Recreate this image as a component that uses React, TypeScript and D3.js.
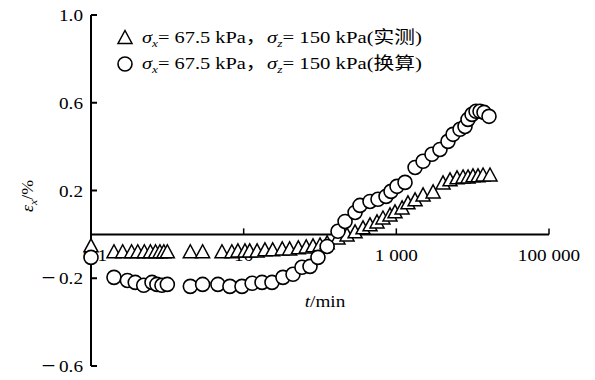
import React from "react";
import * as d3 from "d3";

// Time (min) and horizontal strain εx (%) — measured series (triangles)
const measuredT = [
  0.1, 0.2, 0.26, 0.34, 0.41, 0.5, 0.6, 0.7, 0.8, 0.9, 1.0,
  2, 2.9, 5.2, 7, 8.4, 10.4, 12, 15, 19, 24, 32, 40, 52, 66, 81,
  100, 124, 172, 226, 288, 366, 452, 558, 668, 826, 961, 1190,
  1420, 1760, 2240, 3030, 4090, 5050, 6240, 7480, 8690, 10100,
  11750, 13680, 16870,
];
const measuredE = [
  -0.05, -0.077, -0.077, -0.077, -0.077, -0.077, -0.077, -0.077, -0.077, -0.077, -0.077,
  -0.077, -0.077, -0.077, -0.077, -0.073, -0.073, -0.073, -0.073, -0.068, -0.068, -0.064, -0.064, -0.059, -0.055, -0.05,
  -0.046, -0.036, -0.014, 0.0, 0.014, 0.032, 0.046, 0.059, 0.077, 0.091, 0.105, 0.123,
  0.146, 0.16, 0.182, 0.196, 0.237, 0.251, 0.26, 0.264, 0.264, 0.269,
  0.269, 0.273, 0.273,
];

// Converted series (circles)
const convertedT = [
  0.1, 0.2, 0.3, 0.38, 0.49, 0.63, 0.73, 0.85, 1.0,
  2, 2.9, 4.6, 6.6, 9.5, 12.9, 17.4, 23.5, 32.7, 44.3, 58, 74, 94,
  124, 172, 213, 288, 334, 452, 575, 733, 852, 1020, 1300, 1760,
  2240, 2930, 3730, 4750, 5530, 6830, 7940, 8690, 9800, 11070,
  12480, 14090, 16370,
];
const convertedE = [
  -0.105, -0.196, -0.21, -0.219, -0.232, -0.219, -0.228, -0.232, -0.228,
  -0.237, -0.228, -0.228, -0.237, -0.237, -0.223, -0.219, -0.219, -0.196, -0.182, -0.15, -0.146, -0.105,
  -0.055, 0.014, 0.059, 0.1, 0.132, 0.15, 0.16, 0.173, 0.196, 0.219, 0.237, 0.305,
  0.333, 0.365, 0.387, 0.424, 0.456, 0.479, 0.492, 0.524, 0.547, 0.561,
  0.561, 0.556, 0.538,
];

const xTicks = [0.1, 10, 1000, 100000];
const xTickLabels = ["0.1", "10", "1 000", "100 000"];
const yTicks = [1.0, 0.6, 0.2, -0.2, -0.6];
const yTickLabels = ["1.0", "0.6", "0.2", "\u22120.2", "\u22120.6"];

const FONT = "'Liberation Serif', 'Times New Roman', 'Noto Sans CJK SC', serif";

// Text set in a slightly widened serif face
function WideText({
  x, y, sx = 1.13, anchor = "start", size = 17, rotate = 0, children,
}: {
  x: number; y: number; sx?: number; anchor?: string; size?: number; rotate?: number;
  children: React.ReactNode;
}) {
  return (
    <g transform={`translate(${x},${y}) rotate(${rotate}) scale(${sx},1)`}>
      <text x={0} y={0} textAnchor={anchor} fontSize={size} fontFamily={FONT} fill="#000">
        {children}
      </text>
    </g>
  );
}

// Tick label with a long, spaced-out leading minus sign
function tickText(label: string) {
  if (label.startsWith("\u2212")) {
    return (
      <>
        <tspan fontSize={22} dy={1}>{"\u2212"}</tspan>
        <tspan dx={3} dy={-1}>{label.slice(1)}</tspan>
      </>
    );
  }
  return label;
}

export default function App() {
  const x = d3.scaleLog().domain([0.1, 100000]).range([91, 549]);
  const y = d3.scaleLinear().domain([-0.6, 1.0]).range([366, 15]);
  const x0 = x(0.1);
  const y0 = y(0);

  const tri = (cx: number, cy: number) => {
    const w = 7, h = 6.5;
    return `M${cx},${cy - h}L${cx + w},${cy + h}L${cx - w},${cy + h}Z`;
  };

  const measured = measuredT.map((t, i) => ({ t, e: measuredE[i] }));
  const converted = convertedT.map((t, i) => ({ t, e: convertedE[i] }));

  const legendRow = (label: string, baseline: number) => (
    <g>
      <WideText x={142} y={baseline} sx={1.2}>
        <tspan fontStyle="italic">σ</tspan>
        <tspan fontStyle="italic" fontSize={11} dy={4}>x</tspan>
        <tspan dy={-4}>= 67.5 kPa，</tspan>
      </WideText>
      <WideText x={267} y={baseline} sx={1.22}>
        <tspan fontStyle="italic">σ</tspan>
        <tspan fontStyle="italic" fontSize={11} dy={4}>z</tspan>
        <tspan dy={-4}>= 150 kPa({label})</tspan>
      </WideText>
    </g>
  );

  return (
    <div style={{ position: "absolute", left: 0, top: 0 }}>
      <svg width={595} height={380} style={{ display: "block", background: "#fff" }}>
        {/* y axis */}
        <line x1={x0} x2={x0} y1={y(1.0)} y2={y(-0.6)} stroke="#000" strokeWidth={2} />
        {yTicks.map((v, i) => (
          <g key={"yt" + i}>
            <line x1={x0} x2={x0 + 6} y1={y(v)} y2={y(v)} stroke="#000" strokeWidth={2} />
            <WideText x={83} y={y(v) + 6} anchor="end">
              {tickText(yTickLabels[i])}
            </WideText>
          </g>
        ))}

        {/* x axis along zero strain */}
        <line x1={x0} x2={x(100000)} y1={y0} y2={y0} stroke="#000" strokeWidth={2} />
        {xTicks.map((v, i) => (
          <g key={"xt" + i}>
            <line x1={x(v)} x2={x(v)} y1={y0} y2={y0 - 6} stroke="#000" strokeWidth={1.5} />
            <WideText x={x(v) + (i === 0 ? 4 : 0)} y={y0 + 27} anchor="middle">
              {xTickLabels[i]}
            </WideText>
          </g>
        ))}

        {/* axis titles */}
        <WideText x={325} y={307} anchor="middle">
          <tspan fontStyle="italic">t</tspan>/min
        </WideText>
        <WideText x={33} y={196} anchor="middle" rotate={-90} sx={1.05}>
          <tspan fontStyle="italic">ε</tspan>
          <tspan fontStyle="italic" fontSize={11} dy={4}>x</tspan>
          <tspan dy={-4}>/%</tspan>
        </WideText>

        {/* measured: triangles */}
        {measured.map((d, i) => (
          <path key={"m" + i} d={tri(x(d.t), y(d.e))} fill="#fff" stroke="#000" strokeWidth={1.5} />
        ))}

        {/* converted: circles */}
        {converted.map((d, i) => (
          <circle key={"c" + i} cx={x(d.t)} cy={y(d.e)} r={7} fill="#fff" stroke="#000" strokeWidth={1.6} />
        ))}

        {/* legend */}
        <path d={tri(125, 37)} fill="#fff" stroke="#000" strokeWidth={1.5} />
        {legendRow("实测", 43)}
        <circle cx={125} cy={64} r={7} fill="#fff" stroke="#000" strokeWidth={1.6} />
        {legendRow("换算", 69)}
      </svg>
    </div>
  );
}
